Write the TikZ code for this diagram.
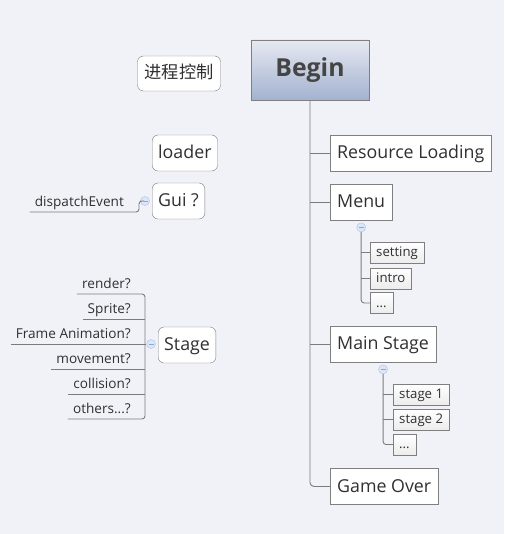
\documentclass[tikz,border=0pt]{standalone}
\usepackage{fontspec}
\setmainfont{Open Sans}
\newfontfamily\cjk{Noto Sans CJK SC}
\usetikzlibrary{positioning}

\definecolor{bg}{HTML}{F1F2F8}
\definecolor{conn}{HTML}{7C7C7C}
\definecolor{boxline}{HTML}{7F7F7F}
\definecolor{txt}{HTML}{303030}
\definecolor{begintop}{HTML}{E6E9F2}
\definecolor{beginbot}{HTML}{A2B2CF}
\definecolor{subbot}{HTML}{ECECEC}
\definecolor{minusfill}{HTML}{DCE6F8}
\definecolor{minusline}{HTML}{A9C1EA}
\definecolor{minussign}{HTML}{8FA6CF}

\begin{document}
\begin{tikzpicture}[x=1pt,y=-1pt,
    topic/.style={draw=boxline,fill=white,text=txt,inner xsep=7pt,minimum height=36pt,
      text height=14pt,text depth=3pt,anchor=west,font=\fontsize{17.8}{20}\selectfont},
    floattopic/.style={topic,rounded corners=6pt,inner xsep=6pt},
    subtopic/.style={draw=boxline,top color=white,bottom color=subbot,text=txt,inner xsep=6pt,
      minimum height=21pt,text height=10.5pt,text depth=2.5pt,anchor=west,font=\fontsize{13.2}{15}\selectfont},
    leaf/.style={text=txt,inner xsep=5pt,inner ysep=2pt,text height=10pt,text depth=3pt,
      anchor=south east,font=\fontsize{13.6}{15}\selectfont},
    minus/.style={circle,draw=minusline,fill=minusfill,minimum size=9pt,inner sep=0pt},
    conn/.style={draw=conn,line width=0.9pt}]

    \useasboundingbox[fill=bg] (0,0) rectangle (504,534);

    % central topic
    \node[draw=boxline,top color=begintop,bottom color=beginbot,text=txt!90,
      minimum width=118pt,minimum height=60pt,font=\bfseries\fontsize{24.8}{28}\selectfont]
      (begin) at (310,70) {Begin};

    % main branches
    \node[topic] (res) at (330,153) {Resource Loading};
    \node[topic] (menu) at (330,202) {Menu};
    \node[topic] (mainstage) at (330,344) {Main Stage};
    \node[topic] (gameover) at (330,486.5) {Game Over};

    \draw[conn,rounded corners=4pt] (begin.south) |- (gameover.west);
    \foreach \n in {res,menu,mainstage}
    \draw[conn] (begin.south |- \n.west) -- (\n.west);

    % menu children
    \node[minus,below=2.5pt of menu] (menuc) {};
    \node[subtopic] (setting) at (370,252.5) {setting};
    \node[subtopic] (intro) at (370,278.5) {intro};
    \node[subtopic] (menudots) at (370,303) {...};

    \draw[conn,rounded corners=3pt] (menuc.south) |- (menudots.west);
    \foreach \n in {setting,intro}
    \draw[conn] (menuc |- \n.west) -- (\n.west);

    % main stage children
    \node[minus,below=2.5pt of mainstage] (stagesc) {};
    \node[subtopic] (stage1) at (393,394.5) {stage 1};
    \node[subtopic] (stage2) at (393,419.5) {stage 2};
    \node[subtopic] (stagedots) at (393,444.5) {...};

    \draw[conn,rounded corners=3pt] (stagesc.south) |- (stagedots.west);
    \foreach \n in {stage1,stage2}
    \draw[conn] (stagesc |- \n.west) -- (\n.west);

    % floating topics
    \node[floattopic,anchor=center,inner xsep=7pt,minimum height=35pt] (control) at (179,73.5)
      {\cjk\fontsize{17.25}{20}\selectfont 进程控制};
    \node[floattopic] (loader) at (152,153) {loader};
    \node[floattopic] (gui) at (152,201) {Gui ?};
    \node[floattopic] (stage) at (158,345) {Stage};

    % gui children
    \node[minus] (guic) at (145,201) {};
    \node[leaf] (dispatch) at (129,212) {dispatchEvent};
    \coordinate (guibend) at (139,201);
    \draw[conn,rounded corners=3pt] (dispatch.south west) -| (guibend) -- (guic.west);

    % stage children
    \node[minus] (stagec) at (151,344) {};
    \coordinate (stagebar) at (145,344);
    \node[leaf] (render) at (136,294) {render?};
    \node[leaf] (sprite) at (136,319) {Sprite?};
    \node[leaf] (frame) at (136,344) {Frame Animation?};
    \node[leaf] (movement) at (136,369) {movement?};
    \node[leaf] (collision) at (136,394) {collision?};
    \node[leaf] (others) at (136,419) {others...?};

    \draw[conn,rounded corners=3pt] (render.south west) -| (others.south west -| stagebar) -- (others.south west);
    \foreach \n in {sprite,movement,collision}
    \draw[conn] (\n.south west) -- (\n.south west -| stagebar);
    \draw[conn] (frame.south west) -- (stagec.west);

    % collapse signs
    \foreach \c in {menuc,stagesc,guic,stagec}
    \draw[minussign,line width=0.8pt] ([xshift=-2.5pt]\c.center) -- ([xshift=2.5pt]\c.center);
\end{tikzpicture}
\end{document}
